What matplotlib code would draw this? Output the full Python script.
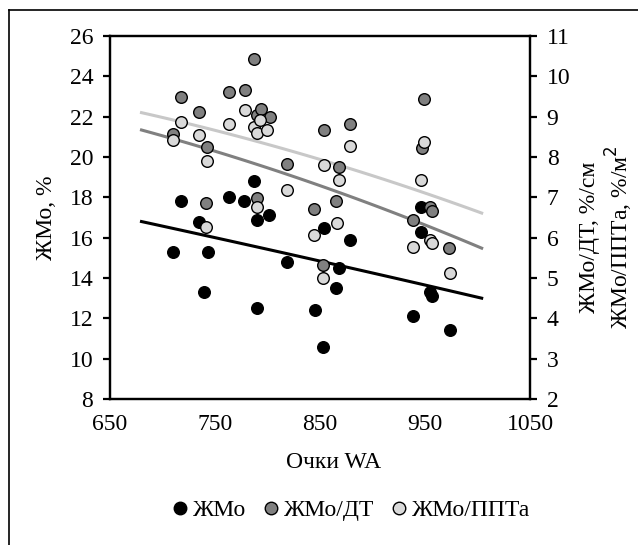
import numpy as np
import matplotlib
matplotlib.use("Agg")
from matplotlib import pyplot as plt
from matplotlib.lines import Line2D

plt.rcParams['font.family'] = ['Liberation Serif', 'DejaVu Serif']
plt.rcParams['font.size'] = 17

# ЖМо, % (left axis)
bx = [710, 718, 735, 740, 743, 763, 778, 787, 790, 790, 801, 819,
      845, 853, 854, 865, 868, 879, 939, 946, 946, 955, 957, 974]
by = [15.3, 17.8, 16.8, 13.3, 15.3, 18.0, 17.8, 18.8, 16.9, 12.5, 17.1, 14.8,
      12.4, 10.6, 16.5, 13.5, 14.5, 15.9, 12.1, 16.3, 17.5, 13.3, 13.1, 11.4]

# ЖМо/ДТ (right axis)
gx = [710, 718, 735, 742, 741, 763, 779, 787, 790, 794, 802, 790, 819,
      844, 853, 854, 865, 868, 879, 939, 947, 949, 955, 957, 973]
gy = [8.57, 9.50, 9.12, 8.26, 6.85, 9.62, 9.66, 10.42, 9.04, 9.18, 9.00, 6.98, 7.82,
      6.71, 5.32, 8.67, 6.92, 7.76, 8.82, 6.44, 8.23, 9.44, 6.77, 6.67, 5.74]

# ЖМо/ППТа (right axis)
lx = [710, 718, 735, 742, 741, 763, 779, 787, 790, 793, 800, 790, 819,
      844, 853, 854, 866, 868, 879, 939, 946, 949, 955, 957, 974]
ly = [8.42, 8.88, 8.55, 7.91, 6.27, 8.81, 9.17, 8.75, 8.60, 8.93, 8.67, 6.77, 7.17,
      6.07, 4.99, 7.80, 6.37, 7.43, 8.27, 5.78, 7.43, 8.36, 5.94, 5.88, 5.13]

# trend lines (start, middle, end)
trend_x = [680, 850, 1004]
trend_b = [16.8, 14.84, 13.0]
trend_g = [8.67, 7.29, 5.74]
trend_l = [9.10, 7.94, 6.61]

fig = plt.figure(figsize=(6.38, 5.45), dpi=100)
ax = fig.add_axes([0.1724, 0.2679, 0.6583, 0.666])
ax2 = ax.twinx()

xs = np.linspace(trend_x[0], trend_x[-1], 100)
ms = 70
ax.scatter(bx, by, s=ms, c='black', edgecolors='black', linewidths=1.0, zorder=3)
ax.plot(xs, np.polyval(np.polyfit(trend_x, trend_b, 2), xs), color='black', lw=2.2, zorder=2)

ax2.plot(xs, np.polyval(np.polyfit(trend_x, trend_g, 2), xs), color='#808080', lw=2.2, zorder=2)
ax2.plot(xs, np.polyval(np.polyfit(trend_x, trend_l, 2), xs), color='#c8c8c8', lw=2.2, zorder=2)
ax2.scatter(gx, gy, s=ms, c='#808080', edgecolors='black', linewidths=1.0, zorder=3)
ax2.scatter(lx, ly, s=ms, c='#d9d9d9', edgecolors='black', linewidths=1.0, zorder=3)

ax.set_xlim(650, 1050)
ax.set_xticks(np.arange(650, 1051, 100))
ax.set_ylim(8, 26)
ax.set_yticks(np.arange(8, 27, 2))
ax2.set_ylim(2, 11)
ax2.set_yticks(np.arange(2, 12, 1))

for a in (ax, ax2):
    for s in a.spines.values():
        s.set_linewidth(1.6)
ax.tick_params(axis='y', direction='out', length=5, width=1.6, pad=7)
ax2.tick_params(axis='y', direction='out', length=5, width=1.6, pad=7)
ax.tick_params(axis='x', length=0, pad=11)

ax.set_xlabel('Очки WA')
ax.xaxis.set_label_coords(0.533, -0.145)
ax.set_ylabel('ЖМо, %')
ax.yaxis.set_label_coords(-0.125, 0.5)
ax2.set_ylabel('ЖМо/ДТ, %/см\nЖМо/ППТа, %/м$^2$', linespacing=1.15)
ax2.yaxis.set_label_coords(1.117, 0.445)

handles = [
    Line2D([], [], marker='o', ls='', markersize=9, markerfacecolor='black', markeredgecolor='black'),
    Line2D([], [], marker='o', ls='', markersize=9, markerfacecolor='#808080', markeredgecolor='black'),
    Line2D([], [], marker='o', ls='', markersize=9, markerfacecolor='#d9d9d9', markeredgecolor='black'),
]
fig.legend(handles, ['ЖМо', 'ЖМо/ДТ', 'ЖМо/ППТа'], loc='center', bbox_to_anchor=(349 / 638, 1 - 510 / 545),
           ncol=3, frameon=False, handletextpad=0.0, columnspacing=0.5, handlelength=1.1)

# outer frame
fig.add_artist(Line2D([9 / 638, 9 / 638], [0, 1 - 10 / 545], color='black', lw=1.2))
fig.add_artist(Line2D([9 / 638, 1], [1 - 10 / 545, 1 - 10 / 545], color='black', lw=1.2))

fig.savefig('out.png', dpi=100)
